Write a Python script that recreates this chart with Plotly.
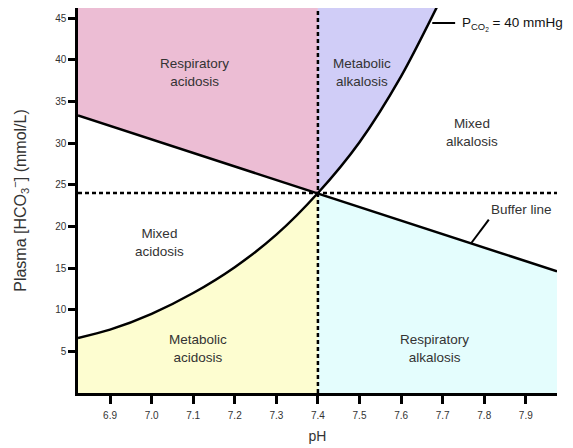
import plotly.graph_objects as go

# ---- data ----
x_min, x_max = 6.823, 7.975
y_min, y_max = 0.0, 46.6
y_axis_top = 46.2
normal_ph = 7.4
normal_hco3 = 24.0

# PCO2 = 40 mmHg isobar
iso_ph = [6.823, 6.9, 7.0, 7.1, 7.2, 7.3, 7.4, 7.5, 7.6, 7.689]
iso_hco3 = [6.6, 7.6, 9.5, 12.0, 15.1, 19.0, 24.0, 30.1, 38.0, 46.6]

# Buffer line end points
buffer_ph = [6.823, 7.4, 7.975]
buffer_hco3 = [33.3, 24.0, 14.6]

x_ticks = [6.9, 7.0, 7.1, 7.2, 7.3, 7.4, 7.5, 7.6, 7.7, 7.8, 7.9]
x_tick_labels = ["6.9", "7.0", "7.1", "7.2", "7.3", "7.4", "7.5", "7.6", "7.7", "7.8", "7.9"]
y_ticks = [5, 10, 15, 20, 25, 30, 35, 40, 45]

region_names = ["Respiratory<br>acidosis", "Metabolic<br>alkalosis", "Mixed<br>alkalosis",
                "Mixed<br>acidosis", "Metabolic<br>acidosis", "Respiratory<br>alkalosis"]
region_x = [7.102, 7.506, 7.770, 7.020, 7.111, 7.681]
region_y = [38.5, 38.5, 31.3, 18.1, 5.4, 5.4]

PINK = "#ecbdd4"
LAV = "#d0cdf7"
YEL = "#fdfdd0"
CYAN = "#e4fdfd"
TXT = "#333333"
FONT = "Liberation Sans, Arial"

fig = go.Figure()

def poly(xs, ys, color):
    fig.add_trace(go.Scatter(x=xs, y=ys, fill="toself", fillcolor=color, mode="none",
                             hoverinfo="skip", showlegend=False))

# Respiratory acidosis: above buffer line, left of 7.4
poly([buffer_ph[0], buffer_ph[1], normal_ph, x_min],
     [buffer_hco3[0], buffer_hco3[1], y_max, y_max], PINK)
# Metabolic alkalosis: right of 7.4, above isobar
ma_x = [p for p in iso_ph if p >= normal_ph]
ma_y = [h for p, h in zip(iso_ph, iso_hco3) if p >= normal_ph]
poly(ma_x + [normal_ph], ma_y + [y_max], LAV)
# Metabolic acidosis: left of 7.4, below isobar
mac_x = [p for p in iso_ph if p <= normal_ph]
mac_y = [h for p, h in zip(iso_ph, iso_hco3) if p <= normal_ph]
poly([x_min] + mac_x + [normal_ph], [y_min] + mac_y + [y_min], YEL)
# Respiratory alkalosis: right of 7.4, below buffer line
poly([buffer_ph[1], buffer_ph[2], x_max, normal_ph],
     [buffer_hco3[1], buffer_hco3[2], y_min, y_min], CYAN)

# Dashed reference lines
fig.add_trace(go.Scatter(x=[x_min, x_max], y=[normal_hco3, normal_hco3], mode="lines",
                         line=dict(color="black", width=2.5, dash="4px,3px"),
                         hoverinfo="skip", showlegend=False))
fig.add_trace(go.Scatter(x=[normal_ph, normal_ph], y=[y_min, y_max], mode="lines",
                         line=dict(color="black", width=2.5, dash="4px,3px"),
                         hoverinfo="skip", showlegend=False))

# Buffer line
fig.add_trace(go.Scatter(x=[buffer_ph[0], buffer_ph[2]], y=[buffer_hco3[0], buffer_hco3[2]],
                         mode="lines", line=dict(color="black", width=2.5),
                         hoverinfo="skip", showlegend=False))
# Isobar
fig.add_trace(go.Scatter(x=iso_ph, y=iso_hco3, mode="lines",
                         line=dict(color="black", width=2.5, shape="spline", smoothing=0.8),
                         hoverinfo="skip", showlegend=False))

# Leader lines
fig.add_trace(go.Scatter(x=[7.675, 7.73], y=[44.4, 44.4], mode="lines",
                         line=dict(color="black", width=2), hoverinfo="skip", showlegend=False))
fig.add_trace(go.Scatter(x=[7.769, 7.811], y=[18.0, 20.8], mode="lines",
                         line=dict(color="black", width=2), hoverinfo="skip", showlegend=False))

for name, xx, yy in zip(region_names, region_x, region_y):
    fig.add_annotation(x=xx, y=yy, text=name, showarrow=False,
                       font=dict(family=FONT, size=13.5, color=TXT))

fig.add_annotation(x=7.742, y=44.3, xanchor="left", text="P<sub>CO<sub>2</sub></sub> = 40 mmHg",
                   showarrow=False, font=dict(family=FONT, size=13.5, color="#111"))
fig.add_annotation(x=7.812, y=22.0, xanchor="left", text="Buffer line",
                   showarrow=False, font=dict(family=FONT, size=13.5, color=TXT))

fig.update_layout(
    width=573, height=448,
    margin=dict(l=70, r=24, t=0, b=63),
    paper_bgcolor="white", plot_bgcolor="white",
    font=dict(family=FONT, color=TXT),
    showlegend=False,
)
fig.update_xaxes(range=[x_min, x_max], tickvals=x_ticks, ticktext=x_tick_labels,
                 automargin=False,
                 showgrid=False, zeroline=False, showline=True, linecolor="black", linewidth=2.5,
                 ticks="outside", ticklen=8, tickwidth=2.5, tickcolor="black",
                 ticklabelstandoff=3,
                 tickfont=dict(size=10, color=TXT),
                 title=dict(text="pH", font=dict(size=14, color=TXT), standoff=12))
fig.update_yaxes(range=[y_min, y_axis_top], tickvals=y_ticks,
                 automargin=False,
                 showgrid=False, zeroline=False, showline=True, linecolor="black", linewidth=2.5,
                 ticks="outside", ticklen=7, tickwidth=2.5, tickcolor="black",
                 tickfont=dict(size=10, color=TXT),
                 title=dict(text="Plasma [HCO<sub>3</sub><sup>−</sup>] (mmol/L)",
                            font=dict(size=16, color=TXT), standoff=25))

fig.write_html("out.html")
